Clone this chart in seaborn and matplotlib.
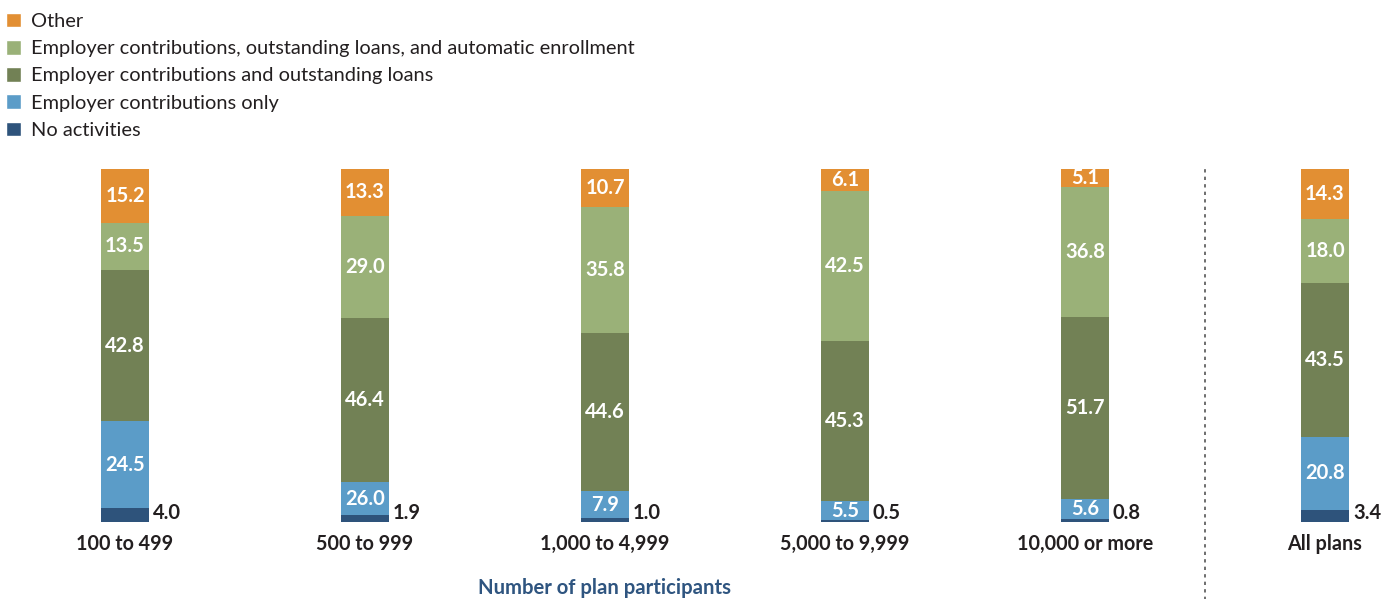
"""Stacked bars: plan activity by number of plan participants."""
import matplotlib
matplotlib.use("Agg")
import matplotlib.pyplot as plt
from matplotlib.patches import Patch
import numpy as np
import pandas as pd
import seaborn as sns

# Data (percent of plans); heights as drawn in the reference
groups = ["100 to 499", "500 to 999", "1,000 to 4,999",
          "5,000 to 9,999", "10,000 or more", "All plans"]
no_activities = [4.0, 1.9, 1.0, 0.5, 0.8, 3.4]
contrib_only = [24.5, 9.4, 7.9, 5.5, 5.6, 20.8]
contrib_loans = [42.8, 46.4, 44.6, 45.3, 51.7, 43.5]
contrib_loans_auto = [13.5, 29.0, 35.8, 42.5, 36.8, 18.0]
other = [15.2, 13.3, 10.7, 6.1, 5.1, 14.3]
# printed labels (the 500 to 999 blue segment is labelled 26.0 in the source)
contrib_only_labels = ["24.5", "26.0", "7.9", "5.5", "5.6", "20.8"]

series = [
  ("No activities", no_activities, "#2e537b"),
  ("Employer contributions only", contrib_only, "#5b9cc8"),
  ("Employer contributions and outstanding loans", contrib_loans, "#728155"),
  ("Employer contributions, outstanding loans, and automatic enrollment",
   contrib_loans_auto, "#9ab178"),
  ("Other", other, "#e28f33"),
]

sns.set_style("white")
plt.rcParams["font.family"] = ["Lato", "DejaVu Sans"]

fig = plt.figure(figsize=(13.93, 5.99), dpi=100)
ax = fig.add_axes([0, 77 / 599, 1, 353 / 599])

df = pd.DataFrame({"group": groups})
bottom = np.zeros(len(groups))
for name, vals, color in series:
  df["value"] = vals
  sns.barplot(data=df, x="group", y="value", order=groups, color=color,
              width=0.2, bottom=bottom, saturation=1, linewidth=0, ax=ax)
  for i, v in enumerate(vals):
    if name == "No activities":
      ax.annotate(f"{v:.1f}", (i + 0.1, 0), xytext=(2.8, -1),
                  textcoords="offset points", ha="left", va="bottom",
                  fontsize=14.5, fontweight="bold", color="#231f20")
    else:
      txt = contrib_only_labels[i] if name == "Employer contributions only" else f"{v:.1f}"
      ax.text(i, bottom[i] + v / 2, txt, ha="center", va="center",
              fontsize=14.5, fontweight="bold", color="white")
  bottom += np.array(vals)

ax.set_xlim(-125 / 240, (1393 - 125) / 240)
ax.set_ylim(0, 100)
ax.set_xlabel("")
ax.set_ylabel("")
ax.set_yticks([])
ax.tick_params(axis="x", length=0, pad=8.5)
for lbl in ax.get_xticklabels():
  lbl.set_fontweight("bold")
  lbl.set_fontsize(14.2)
  lbl.set_color("#231f20")
sns.despine(ax=ax, left=True, bottom=True)

# Separator between size groups and all plans
ax.axvline(4.5, ymin=-0.22, ymax=1.012, color="#555555", linestyle=(0, (2, 2.5)),
           linewidth=1.2, clip_on=False)

ax.text(2, -0.187, "Number of plan participants", transform=ax.get_xaxis_transform(),
        ha="center", va="center", fontsize=14.6, fontweight="bold", color="#2f5580")

handles = [Patch(facecolor=c, label=n) for n, _, c in series[::-1]]
fig.legend(handles=handles, loc="upper left", bbox_to_anchor=(-6 / 1393, 0.999),
           frameon=False, fontsize=14.4, handlelength=0.75, handleheight=0.75,
           handletextpad=0.5, labelspacing=0.5, borderaxespad=0.3,
           borderpad=0.3, labelcolor="#231f20")

plt.savefig("out.png", dpi=100)
